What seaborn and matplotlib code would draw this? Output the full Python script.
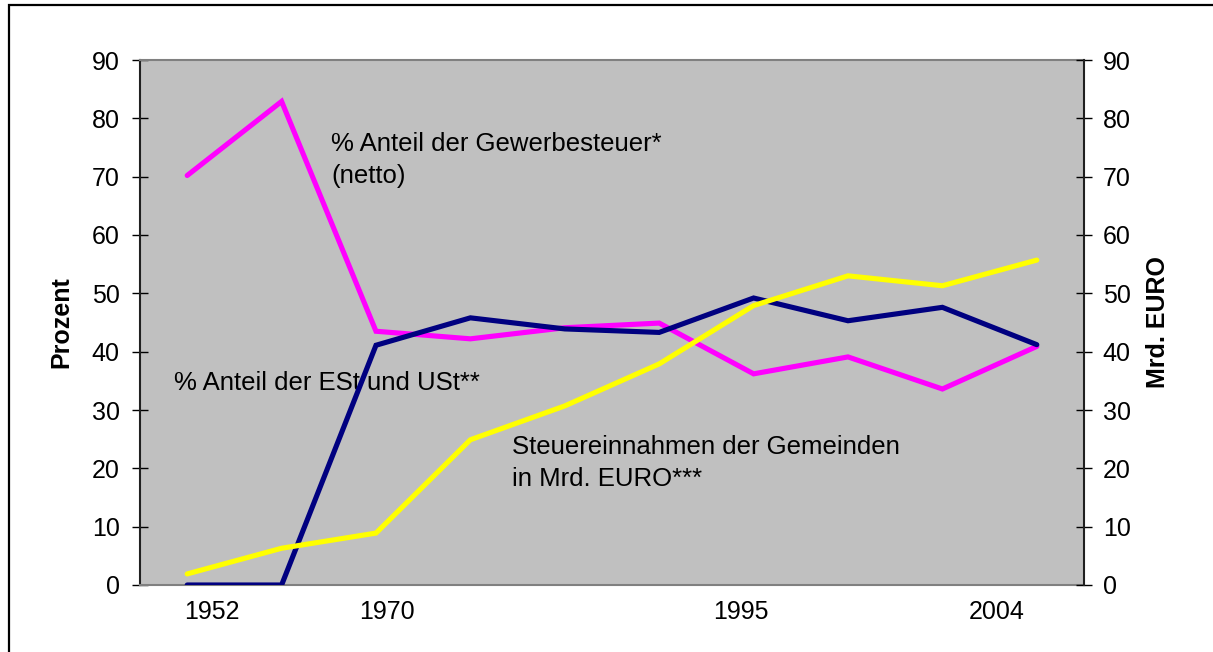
import pandas as pd
import numpy as np
import matplotlib
matplotlib.use("Agg")
import matplotlib.pyplot as plt
from matplotlib.patches import Rectangle
import seaborn as sns

# values (10 categories, only some labelled)
category = list(range(10))
gewerbesteuer = [70.2, 82.9, 43.5, 42.2, 44.1, 44.9, 36.2, 39.1, 33.6, 40.9]
est_ust = [0.0, 0.0, 41.1, 45.8, 43.9, 43.3, 49.2, 45.3, 47.6, 41.2]
steuereinnahmen = [1.9, 6.3, 8.9, 24.9, 30.7, 37.9, 47.9, 53.0, 51.3, 55.7]
year_labels = ["1952", "1970", "1995", "2004"]
y_ticks = [0, 10, 20, 30, 40, 50, 60, 70, 80, 90]

df = pd.DataFrame({
    "cat": category,
    "gewerbe": gewerbesteuer,
    "est": est_ust,
    "steuer": steuereinnahmen,
})

sns.set_style("white")
plt.rcParams["font.family"] = ["Liberation Sans", "DejaVu Sans"]
plt.rcParams["font.size"] = 18
plt.rcParams["text.color"] = "black"
plt.rcParams["axes.labelcolor"] = "black"
plt.rcParams["xtick.color"] = "black"
plt.rcParams["ytick.color"] = "black"

fig = plt.figure(figsize=(12.13, 6.52), dpi=100)
ax = fig.add_axes([140 / 1213, 67 / 652, 944 / 1213, 525 / 652])
ax.set_facecolor("#C0C0C0")

sns.lineplot(data=df, x="cat", y="gewerbe", ax=ax, color="#FF00FF", linewidth=3.7,
             solid_capstyle="round", solid_joinstyle="miter", zorder=3)
sns.lineplot(data=df, x="cat", y="est", ax=ax, color="#000080", linewidth=3.7,
             solid_capstyle="round", solid_joinstyle="miter", zorder=4)

ax2 = ax.twinx()
ax2.set_facecolor("none")
sns.lineplot(data=df, x="cat", y="steuer", ax=ax2, color="#FFFF00", linewidth=3.7,
             solid_capstyle="round", solid_joinstyle="miter", zorder=5)

for a in (ax, ax2):
    a.set_xlim(-0.5, 9.5)
    a.set_ylim(0, 90)
    a.set_yticks(y_ticks)
    a.set_xlabel("")

# x labels sit off the category centres in the original
ax.set_xticks([0.26, 2.12, 5.87, 8.58])
ax.set_xticklabels(year_labels)
ax.tick_params(axis="x", length=0, pad=11, labelsize=18, labelcolor="black")
ax.tick_params(axis="y", direction="inout", length=11, width=1, color="black",
               pad=9, labelsize=18, left=True, labelcolor="black")
ax2.tick_params(axis="y", direction="inout", length=11, width=1, color="black",
                pad=8, labelsize=18, right=True, labelcolor="black")
ax2.tick_params(axis="x", length=0)

ax.set_ylabel("Prozent", fontsize=18, fontweight="bold", color="black")
ax.yaxis.set_label_coords(-0.083, 0.5)
ax.yaxis.label.set_verticalalignment("center")
ax2.set_ylabel("Mrd. EURO", fontsize=18, fontweight="bold", color="black")
ax2.yaxis.set_label_coords(1.078, 0.5)
ax2.yaxis.label.set_verticalalignment("center")

for side in ("top", "bottom"):
    ax.spines[side].set_color("#808080")
    ax.spines[side].set_linewidth(1.5)
    ax2.spines[side].set_visible(False)
ax.spines["left"].set_color("#202020")
ax.spines["left"].set_linewidth(1.5)
ax.spines["right"].set_visible(False)
ax2.spines["left"].set_visible(False)
ax2.spines["right"].set_color("#202020")
ax2.spines["right"].set_linewidth(1.5)

# series labels written inside the plot area
ax.text(0.2023, 0.810, "% Anteil der Gewerbesteuer*\n(netto)", transform=ax.transAxes,
        ha="left", va="center", fontsize=18.5, linespacing=1.42, color="black", zorder=6)
ax.text(0.036, 0.385, "% Anteil der ESt und USt**", transform=ax.transAxes,
        ha="left", va="center", fontsize=18.5, color="black", zorder=2)
ax2.text(0.394, 0.232, "Steuereinnahmen der Gemeinden\nin Mrd. EURO***", transform=ax.transAxes,
         ha="left", va="center", fontsize=18.5, linespacing=1.42, color="black", zorder=6)

# outer frame (only top and left edges fall inside the image)
fig.patches.append(Rectangle((9 / 1213, -0.1), 1.2, 1.1 - 6 / 652 + 0.001,
                             transform=fig.transFigure, fill=False,
                             edgecolor="black", linewidth=1.6, zorder=10))

fig.savefig("out.png", dpi=100)
